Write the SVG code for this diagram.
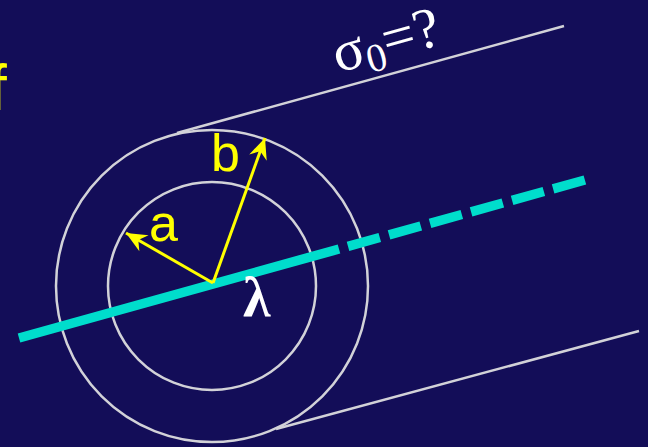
<svg xmlns="http://www.w3.org/2000/svg" width="648" height="447" viewBox="0 0 648 447">
<style>
.ring{fill:none;stroke:#d2d2d8;stroke-width:2.5}
.edge{stroke:#d2d2d8;stroke-width:2.5}
.axis{stroke:#00ddcc;stroke-width:9.5;stroke-linecap:butt}
.vec{stroke:#ffff00;stroke-width:3;fill:none}
.lbl{font-family:"Liberation Sans",Arial,sans-serif;fill:#ffff00}
.sym{font-family:"Liberation Serif","DejaVu Serif","Times New Roman",serif;fill:#ffffff}
</style>
<defs>
<marker id="ah" markerUnits="userSpaceOnUse" markerWidth="24" markerHeight="24" viewBox="-20 -10 22 20" refX="0" refY="0" orient="auto">
<path d="M0,0 L-19,-8.5 L-13,0 L-19,8.5 Z" fill="#ffff00"/>
</marker>
</defs>
<rect width="648" height="447" fill="#130d58"/>
<text x="-11" y="110" class="lbl" font-size="64">f</text>
<g id="edges">
<line class="edge" x1="177" y1="133" x2="564" y2="26"/>
<line class="edge" x1="276" y1="429" x2="639" y2="331"/>
</g>
<g id="outer-cylinder"><circle class="ring" cx="212" cy="286" r="156"/></g>
<g id="inner-cylinder"><circle class="ring" cx="212" cy="286" r="104"/></g>
<g id="line-charge">
<line class="axis" x1="19" y1="338" x2="339" y2="249"/>
<line class="axis" x1="348" y1="246.4" x2="585" y2="180" stroke-dasharray="33 9.6"/>
</g>
<g id="connectors">
<line class="vec" x1="213" y1="283" x2="126" y2="233" marker-end="url(#ah)"/>
<line class="vec" x1="213" y1="283" x2="265" y2="138" marker-end="url(#ah)"/>
</g>
<g id="labels">
<text x="243" y="316" class="sym" font-size="56" font-weight="bold">λ</text>
<text x="149" y="241" class="lbl" font-size="52">a</text>
<text x="211" y="171" class="lbl" font-size="52">b</text>
<text class="sym" font-size="58" transform="translate(338,73) rotate(-15.6)">σ<tspan font-size="40" dy="9">0</tspan><tspan dy="-9">=?</tspan></text>
</g>
</svg>
